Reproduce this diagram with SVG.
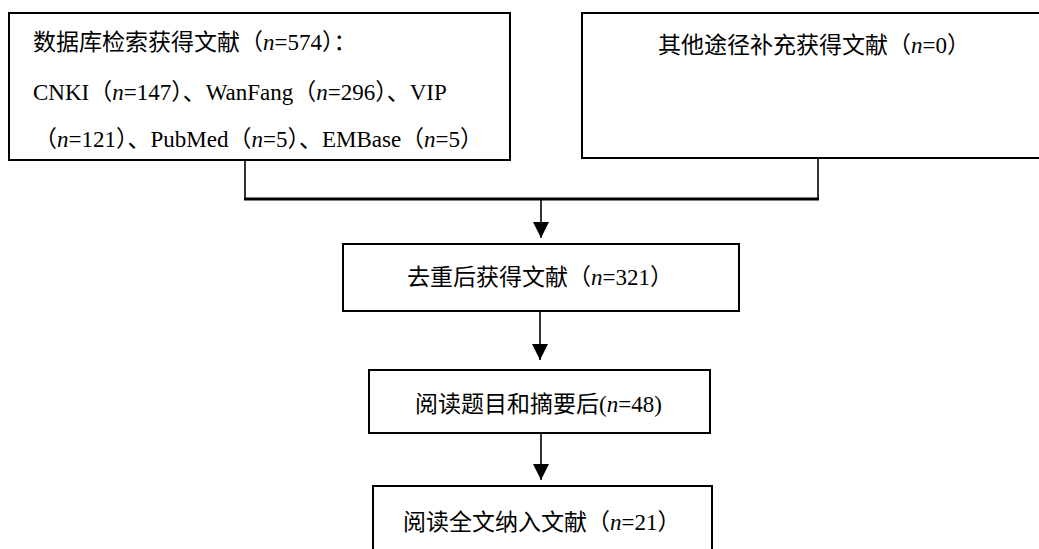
<svg xmlns="http://www.w3.org/2000/svg" width="1039" height="549" viewBox="0 0 1039 549">
<style>
.box{fill:#fff;stroke:#000;stroke-width:2}
.t{font-family:"Liberation Serif","Noto Sans CJK SC",serif;font-size:23px;fill:#000}
.c{stroke:#000;stroke-width:1.6;fill:none}
.h{stroke:#000;stroke-width:3;fill:none}
</style>
<defs>
<marker id="arr" markerUnits="userSpaceOnUse" markerWidth="18" markerHeight="18" refX="16" refY="8" orient="auto">
<path d="M0,0 L16,8 L0,16 Z" fill="#000"/>
</marker>
</defs>
<rect width="1039" height="549" fill="#fff"/>
<g id="connectors">
<line class="c" x1="245" y1="160" x2="245" y2="200"/>
<line class="c" x1="818" y1="158" x2="818" y2="200"/>
<line class="h" x1="244" y1="199" x2="819" y2="199"/>
<line class="c" x1="541" y1="199" x2="541" y2="238" marker-end="url(#arr)"/>
<line class="c" x1="540" y1="311" x2="540" y2="360" marker-end="url(#arr)"/>
<line class="c" x1="541" y1="433" x2="541" y2="480" marker-end="url(#arr)"/>
</g>
<g id="node-db">
<rect class="box" x="9" y="13" width="501" height="147"/>
<text class="t" x="33" y="50">数据库检索获得文献（<tspan font-style="italic">n</tspan>=574）：</text>
<text class="t" x="33" y="100">CNKI（<tspan font-style="italic">n</tspan>=147）、WanFang（<tspan font-style="italic">n</tspan>=296）、VIP</text>
<text class="t" x="34" y="147">（<tspan font-style="italic">n</tspan>=121）、PubMed（<tspan font-style="italic">n</tspan>=5）、EMBase（<tspan font-style="italic">n</tspan>=5）</text>
</g>
<g id="node-other">
<rect class="box" x="582" y="13" width="470" height="145"/>
<text class="t" x="658" y="53">其他途径补充获得文献（<tspan font-style="italic">n</tspan>=0）</text>
</g>
<g id="node-dedup">
<rect class="box" x="343" y="244" width="396" height="67"/>
<text class="t" x="407" y="285">去重后获得文献（<tspan font-style="italic">n</tspan>=321）</text>
</g>
<g id="node-abstract">
<rect class="box" x="369" y="370" width="341" height="63"/>
<text class="t" x="415" y="412">阅读题目和摘要后(<tspan font-style="italic">n</tspan>=48)</text>
</g>
<g id="node-fulltext">
<rect class="box" x="373" y="486" width="339" height="80"/>
<text class="t" x="403" y="530">阅读全文纳入文献（<tspan font-style="italic">n</tspan>=21）</text>
</g>
</svg>
